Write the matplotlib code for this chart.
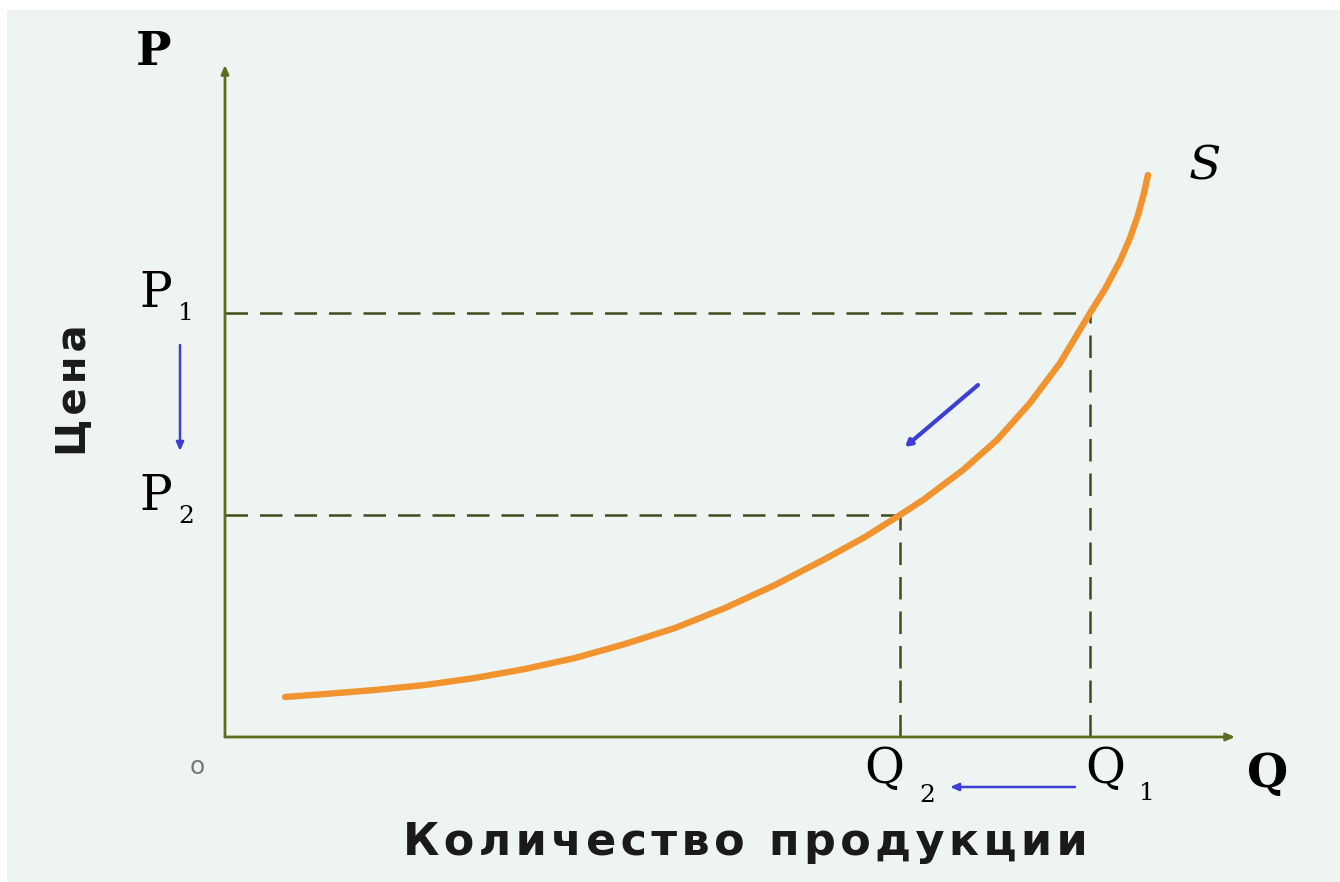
"""
Supply curve S: price falls from P1 to P2, quantity supplied falls from Q1 to Q2.
Output: out.png
"""

import matplotlib
matplotlib.use("Agg")
import matplotlib.pyplot as plt

# ── data ────────────────────────────────────────────────────────────────────
curve_q = [0.60, 1.00, 1.50, 2.00, 2.50, 3.00, 3.50, 4.00, 4.50, 5.00, 5.50,
           6.00, 6.40, 6.75, 6.98, 7.38, 7.72, 8.05, 8.35, 8.50, 8.65, 8.80,
           8.95, 9.05, 9.13, 9.19, 9.23]
curve_p = [0.40, 0.43, 0.47, 0.52, 0.59, 0.68, 0.79, 0.93, 1.09, 1.29, 1.52,
           1.78, 2.00, 2.22, 2.37, 2.67, 2.97, 3.34, 3.74, 3.99, 4.24, 4.48,
           4.76, 4.99, 5.22, 5.44, 5.62]

Q1, Q2 = 8.65, 6.75
P1, P2 = 4.24, 2.22
Q_MAX, P_MAX = 10.10, 6.72

X_LABEL = "Количество продукции"
Y_LABEL = "Цена"

AXIS_COL = "#5a6e1e"
DASH_COL = "#3f4d1c"
CURVE_COL = "#f1932f"
BLUE = "#3b3fd6"
BG = "#eef4f2"
SERIF = ["DejaVu Serif"]


def spaced(s):
    # reference text is slightly letter-spaced
    return "\u200a".join(s)


# ── figure ──────────────────────────────────────────────────────────────────
fig = plt.figure(figsize=(13.4, 8.82), dpi=100)
fig.patch.set_facecolor("white")
ax = fig.add_axes([7 / 1340, 0, 1333 / 1340, 872 / 882])
ax.set_facecolor(BG)
ax.set_xlim(-2.18, 11.15)
ax.set_ylim(-1.45, 7.27)
for sp in ax.spines.values():
    sp.set_visible(False)
ax.set_xticks([])
ax.set_yticks([])

# axes with arrowheads
arrow_kw = dict(arrowstyle="-|>,head_length=0.5,head_width=0.22",
                color=AXIS_COL, lw=2.0, shrinkA=0, shrinkB=0)
ax.annotate("", xy=(0, P_MAX), xytext=(0, 0), arrowprops=arrow_kw)
ax.annotate("", xy=(Q_MAX, 0), xytext=(0, 0), arrowprops=arrow_kw)

# dashed guides
dash = dict(color=DASH_COL, lw=1.8, ls=(0, (9, 4.8)))
ax.plot([0, Q1], [P1, P1], **dash)
ax.plot([Q1, Q1], [0, P1], **dash)
ax.plot([0, Q2], [P2, P2], **dash)
ax.plot([Q2, Q2], [0, P2], **dash)

# supply curve
ax.plot(curve_q, curve_p, color=CURVE_COL, lw=4.6, solid_capstyle="round",
        solid_joinstyle="round", zorder=5)

# blue arrows
blue_kw = dict(arrowstyle="-|>,head_length=0.5,head_width=0.22",
               color=BLUE, lw=1.8, shrinkA=0, shrinkB=0)
ax.annotate("", xy=(-0.45, 2.86), xytext=(-0.45, 3.92), arrowprops=blue_kw)
ax.annotate("", xy=(7.25, -0.50), xytext=(8.50, -0.50), arrowprops=blue_kw)
ax.annotate("", xy=(6.80, 2.90), xytext=(7.53, 3.52),
            arrowprops=dict(blue_kw, lw=3.0,
                            arrowstyle="-|>,head_length=0.35,head_width=0.2"))

# labels
ax.text(-0.72, 6.85, "P", family=SERIF, fontweight="bold", fontsize=34,
        ha="center", va="center")
ax.text(10.43, -0.37, "Q", family=SERIF, fontweight="bold", fontsize=34,
        ha="center", va="center")
ax.text(-0.28, -0.30, "о", fontsize=18, color="#777777",
        ha="center", va="center")

sub = dict(family=SERIF, fontsize=18, ha="center", va="center")
big = dict(family=SERIF, fontsize=35, ha="center", va="center")
ax.text(-0.69, P1 + 0.19, "P", **big)
ax.text(-0.39, P1 - 0.01, "1", **sub)
ax.text(-0.69, P2 + 0.18, "P", **big)
ax.text(-0.39, P2 - 0.02, "2", **sub)

ax.text(Q2 - 0.16, -0.33, "Q", **big)
ax.text(Q2 + 0.27, -0.58, "2", **sub)
ax.text(Q1 + 0.15, -0.33, "Q", **big)
ax.text(Q1 + 0.57, -0.56, "1", **sub)

ax.text(9.80, 5.70, "S", family=SERIF, style="italic", fontsize=34,
        ha="center", va="center")

ax.text(-1.50, 3.47, spaced(Y_LABEL), fontsize=29, fontweight="bold",
        rotation=90, ha="center", va="center", color="#1a1a1a")
ax.text(5.20, -1.05, spaced(X_LABEL), fontsize=32, fontweight="bold",
        ha="center", va="center", color="#1a1a1a")

fig.savefig("out.png", dpi=100, facecolor="white")
